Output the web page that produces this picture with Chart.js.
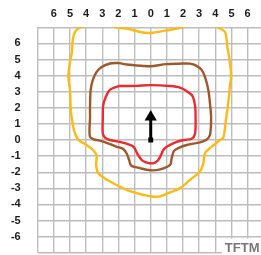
<!DOCTYPE html>
<html>
<head>
<meta charset="utf-8">
<script src="https://cdn.jsdelivr.net/npm/chart.js@4"></script>
<style>
    html, body { margin: 0; padding: 0; background: #fff; overflow: hidden; }
    canvas { display: block; }
</style>
</head>
<body>
<canvas id="field-chart" width="261" height="255"></canvas>
<script>
// Outer (yellow) contour, counter-clockwise from top left
const outerX = [-3.2, -4.38, -4.69, -4.83, -4.89, -5.0, -5.1, -5.0, -4.96, -4.89, -4.72, -4.49, -3.97, -3.62, -3.36, -3.38, -3.25, -2.52, -1.49, -0.46, 0.05, 0.58, 1.2, 1.82, 2.43, 3.05, 3.26, 3.36, 3.8, 4.29, 4.5, 4.67, 4.81, 4.91, 4.98, 4.91, 4.75, 4.6, 4.19, 3.5, 1.92, 0.99, -0.04, -0.66, -1.49, -2.1, -3.2];
const outerY = [7.3, 6.98, 6.71, 6.2, 5.39, 4.85, 3.92, 3.1, 2.06, 1.34, 0.5, 0.02, -0.31, -0.58, -0.93, -1.55, -2.06, -2.58, -3.1, -3.41, -3.51, -3.5, -3.25, -2.99, -2.48, -1.96, -1.44, -0.82, -0.4, 0, 0.15, 1.34, 2.37, 3.41, 3.92, 4.77, 5.78, 6.71, 6.98, 7.4, 6.98, 6.81, 6.65, 6.71, 6.92, 6.98, 7.3];

// Middle (brown) contour
const midX = [-2.01, -2.52, -3.04, -3.35, -3.59, -3.72, -3.76, -3.76, -3.79, -3.76, -3.56, -2.94, -2.11, -1.7, -1.47, -1.34, -1.22, -0.66, -0.04, 0.58, 1.2, 1.3, 1.44, 1.71, 2.23, 3.05, 3.43, 3.67, 3.74, 3.69, 3.57, 3.36, 3.16, 2.81, 2.43, 2.02, 0.99, -0.04, -0.46, -1.49, -2.01];
const midY = [4.79, 4.75, 4.54, 4.23, 3.72, 3.1, 2.06, 1.34, 0.72, 0.19, 0.06, -0.1, -0.42, -0.56, -0.87, -1.24, -1.58, -1.75, -1.88, -1.83, -1.55, -1.13, -0.68, -0.5, -0.31, -0.15, 0, 0.31, 1.34, 2.06, 3.1, 3.92, 4.34, 4.62, 4.74, 4.75, 4.71, 4.58, 4.6, 4.69, 4.79];

// Inner (red) contour
const innerX = [-2.01, -2.52, -2.73, -2.94, -2.97, -2.97, -2.83, -2.52, -1.9, -1.28, -1.03, -0.85, -0.56, -0.29, -0.04, 0.2, 0.47, 0.64, 0.78, 0.99, 1.61, 2.06, 2.54, 2.74, 2.78, 2.74, 2.59, 2.33, 1.82, 1.2, -0.04, -0.87, -1.49, -2.01];
const innerY = [3.35, 3.13, 2.79, 2.17, 1.34, 0.42, 0.15, 0, -0.12, -0.31, -0.46, -0.81, -1.24, -1.39, -1.44, -1.44, -1.24, -0.93, -0.62, -0.42, -0.12, 0, 0.08, 0.37, 1.34, 2.17, 2.73, 2.97, 3.25, 3.35, 3.41, 3.36, 3.35, 3.35];

// Direction arrow from the origin
const arrowX = [0, 0];
const arrowY = [0, 1.43];

const toPoints = (xs, ys) => xs.map((x, i) => ({ x: x, y: ys[i] }));

const contour = (label, xs, ys, color) => ({
    label: label,
    data: toPoints(xs, ys),
    showLine: true,
    borderColor: color,
    borderWidth: 2.4,
    pointRadius: 0,
    tension: 0.3,
    fill: false
});

// White box with the watermark in the bottom right corner
const watermark = {
    id: 'watermark',
    afterDraw(chart) {
        const ctx = chart.ctx;
        ctx.save();
        ctx.fillStyle = '#fff';
        ctx.fillRect(222, 238.5, 39, 17);
        ctx.fillStyle = '#777';
        ctx.font = 'bold 13px "Liberation Sans", Arial, sans-serif';
        ctx.textAlign = 'right';
        ctx.textBaseline = 'alphabetic';
        ctx.fillText('TFTM', 259.5, 251.5);
        ctx.restore();
    }
};

const tickFont = { family: '"Liberation Sans", Arial, sans-serif', size: 11, weight: 'bold' };
const gridStyle = { color: '#bdbdbd', lineWidth: 1.4, drawTicks: false };

new Chart(document.getElementById('field-chart'), {
    type: 'scatter',
    data: {
        datasets: [
            contour('outer', outerX, outerY, '#FDBA12'),
            contour('middle', midX, midY, '#A0582A'),
            contour('inner', innerX, innerY, '#EE2A2E'),
            {
                label: 'arrow',
                data: toPoints(arrowX, arrowY),
                showLine: true,
                borderColor: '#000',
                backgroundColor: '#000',
                borderWidth: 3,
                pointStyle: ['rect', 'triangle'],
                pointRadius: [3.5, 7],
                pointBorderWidth: 0,
                tension: 0
            }
        ]
    },
    options: {
        responsive: false,
        animation: false,
        layout: { autoPadding: false, padding: { left: 0, right: 0, top: 0, bottom: 2.3 } },
        plugins: {
            legend: { display: false },
            tooltip: { enabled: false }
        },
        scales: {
            x: {
                type: 'linear',
                position: 'top',
                min: -7,
                max: 6.83,
                grid: gridStyle,
                border: { display: false },
                ticks: {
                    stepSize: 1,
                    includeBounds: false,
                    padding: 7,
                    color: '#1a1a1a',
                    font: tickFont,
                    maxRotation: 0,
                    autoSkip: false,
                    callback: v => Math.abs(v) <= 6 ? Math.abs(v) : ''
                },
                afterFit: scale => { scale.height = 27.3; scale.paddingLeft = 0; scale.paddingRight = 0; }
            },
            y: {
                type: 'linear',
                min: -7,
                max: 7,
                grid: gridStyle,
                border: { display: false },
                ticks: {
                    stepSize: 1,
                    padding: 17,
                    color: '#1a1a1a',
                    font: tickFont,
                    autoSkip: false,
                    callback: v => Math.abs(v) <= 6 ? v : ''
                },
                afterFit: scale => { scale.width = 37.7; scale.paddingTop = 0; scale.paddingBottom = 0; }
            }
        }
    },
    plugins: [watermark]
});
</script>
</body>
</html>
